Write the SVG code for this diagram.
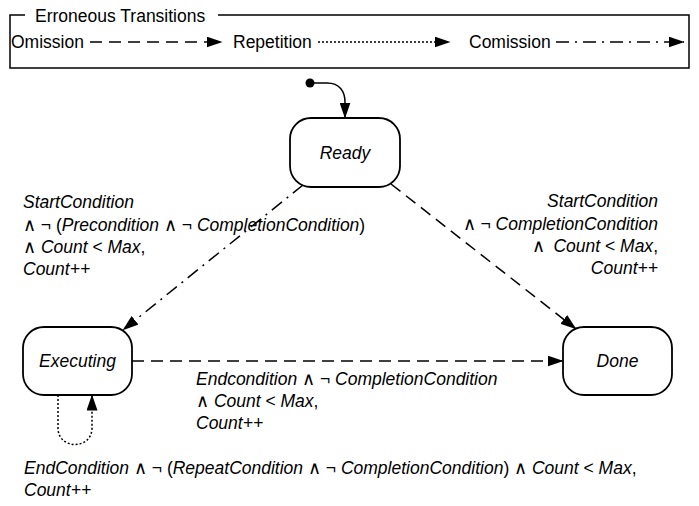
<svg xmlns="http://www.w3.org/2000/svg" width="699" height="506" viewBox="0 0 699 506">
<defs>
<marker id="ah" markerWidth="16" markerHeight="11" refX="15.5" refY="5.5" orient="auto" markerUnits="userSpaceOnUse">
<path d="M0,0 L16,5.5 L0,11 Z" fill="#000"/>
</marker>
<style>
text{font-family:"Liberation Sans",Arial,sans-serif;font-size:17.5px;fill:#000}
.i{font-style:italic}
.node rect{fill:#fff;stroke:#000;stroke-width:1.8}
.c{fill:none;stroke:#000;stroke-width:1.5}
.dash{stroke-dasharray:12 7}
.dot{stroke-dasharray:2 2}
.dashdot{stroke-dasharray:13 6 2 6}
</style>
</defs>
<rect width="699" height="506" fill="#fff"/>
<g id="legend">
<path d="M25,15 H10 V68 H689 V15 H218" class="c"/>
<text x="35" y="22">Erroneous Transitions</text>
<text x="11" y="48">Omission</text>
<path d="M90,42 H222" class="c dash" marker-end="url(#ah)"/>
<text x="233" y="48">Repetition</text>
<path d="M318,42 H450" class="c dot" marker-end="url(#ah)"/>
<text x="469" y="48">Comission</text>
<path d="M556,42 H684" class="c dashdot" marker-end="url(#ah)"/>
</g>
<g id="initial">
<circle cx="310" cy="83" r="4.5" fill="#000"/>
</g>
<g id="ready" class="node">
<rect x="290" y="118" width="110" height="69" rx="21"/>
<text x="345" y="159" text-anchor="middle" class="i">Ready</text>
</g>
<g id="executing" class="node">
<rect x="23" y="327" width="109" height="68" rx="21"/>
<text x="77.5" y="367" text-anchor="middle" class="i">Executing</text>
</g>
<g id="done" class="node">
<rect x="563" y="327" width="109" height="68" rx="21"/>
<text x="617.5" y="367" text-anchor="middle" class="i">Done</text>
</g>
<g id="connectors">
<path d="M310,83 H327 C340,83 345,92 345,102 V118" class="c" marker-end="url(#ah)"/>
<path d="M303,185 L123,330" class="c dashdot" marker-end="url(#ah)"/>
<path d="M391,184 L576,329" class="c dash" marker-end="url(#ah)"/>
<path d="M132,361 H563" class="c dash" marker-end="url(#ah)"/>
<path d="M58,395 V428 C58,450 92,450 92,428 V395" class="c dot" marker-end="url(#ah)"/>
</g>
<g id="labels">
<text x="23" y="208" class="i">StartCondition</text>
<text x="23" y="231">∧ ¬ (<tspan class="i">Precondition</tspan> ∧ ¬ <tspan class="i">CompletionCondition</tspan>)</text>
<text x="23" y="253">∧ <tspan class="i">Count</tspan> &lt; <tspan class="i">Max</tspan>,</text>
<text x="23" y="275" class="i">Count++</text>
<text x="658" y="207" text-anchor="end" class="i">StartCondition</text>
<text x="658" y="230" text-anchor="end">∧ ¬ <tspan class="i">CompletionCondition</tspan></text>
<text x="658" y="252" text-anchor="end">∧ <tspan class="i" dx="4">Count</tspan> &lt; <tspan class="i">Max</tspan>,</text>
<text x="658" y="274" text-anchor="end" class="i">Count++</text>
<text x="196" y="385"><tspan class="i">Endcondition</tspan> ∧ ¬ <tspan class="i">CompletionCondition</tspan></text>
<text x="196" y="407">∧ <tspan class="i">Count</tspan> &lt; <tspan class="i">Max</tspan>,</text>
<text x="196" y="429" class="i">Count++</text>
<text x="24" y="474"><tspan class="i">EndCondition</tspan> ∧ ¬ (<tspan class="i">RepeatCondition</tspan> ∧ ¬ <tspan class="i">CompletionCondition</tspan>) ∧ <tspan class="i">Count</tspan> &lt; <tspan class="i">Max</tspan>,</text>
<text x="24" y="496" class="i">Count++</text>
</g>
</svg>
